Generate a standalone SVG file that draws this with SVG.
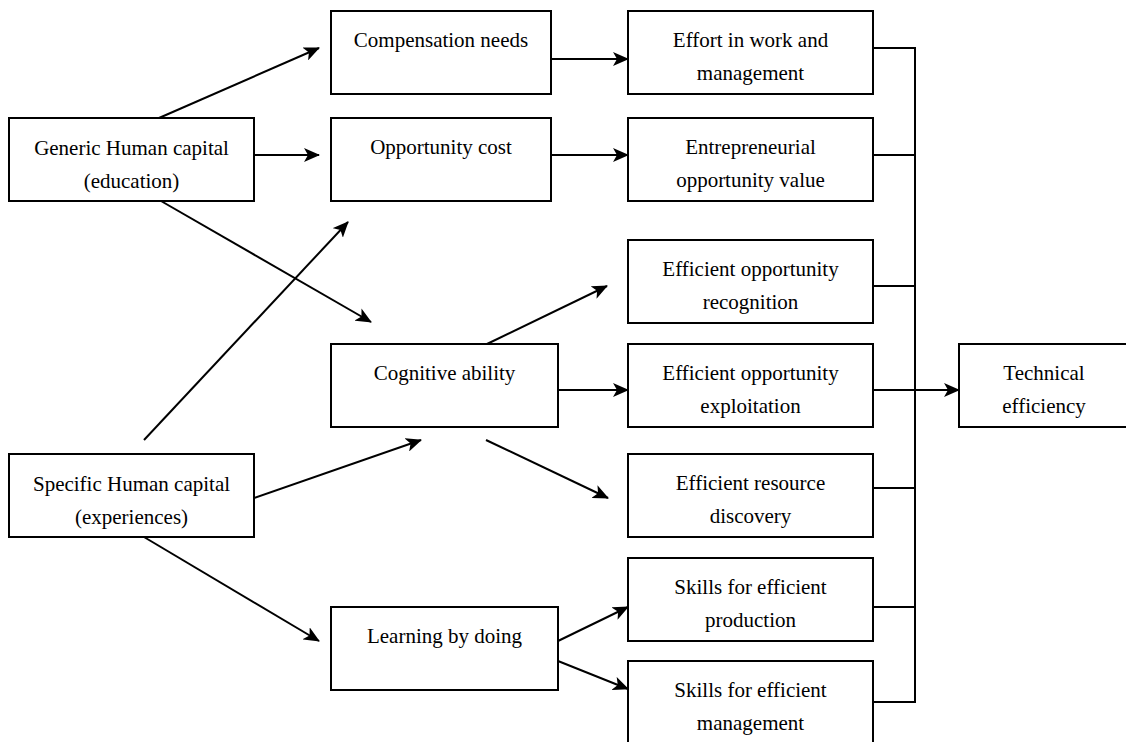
<svg xmlns="http://www.w3.org/2000/svg" width="1126" height="742" viewBox="0 0 1126 742">
<style>
.box{fill:#fff;stroke:#000;stroke-width:2}
.t{font-family:"Liberation Serif","Times New Roman",serif;font-size:21px;fill:#000;text-anchor:middle}
.c{fill:none;stroke:#000;stroke-width:2}
.a{fill:none;stroke:#000;stroke-width:2;marker-end:url(#ah)}
</style>
<defs>
<marker id="ah" markerUnits="userSpaceOnUse" markerWidth="16" markerHeight="14" viewBox="0 0 16 14" refX="15" refY="7" orient="auto">
<path d="M0,0 L16,7 L0,14 L4,7 z" fill="#000"/>
</marker>
</defs>
<rect width="1126" height="742" fill="#fff"/>
<g id="connectors">
<line class="a" x1="159" y1="118" x2="319" y2="48"/>
<line class="a" x1="254" y1="155" x2="319" y2="155"/>
<line class="a" x1="161" y1="201" x2="371" y2="322"/>
<line class="a" x1="144" y1="440" x2="348" y2="222"/>
<line class="a" x1="254" y1="498" x2="421" y2="440"/>
<line class="a" x1="144" y1="537" x2="319" y2="641"/>
<line class="a" x1="551" y1="59" x2="628" y2="59"/>
<line class="a" x1="551" y1="155" x2="628" y2="155"/>
<line class="a" x1="487" y1="344" x2="607" y2="286"/>
<line class="a" x1="558" y1="390" x2="628" y2="390"/>
<line class="a" x1="486" y1="440" x2="608" y2="498"/>
<line class="a" x1="558" y1="641" x2="628" y2="607"/>
<line class="a" x1="558" y1="661" x2="628" y2="689"/>
<path class="c" d="M873,48 H915 M873,155 H915 M873,286 H915 M873,488 H915 M873,607 H915 M873,702 H915 M915,47 V703"/>
<line class="a" x1="873" y1="390" x2="959" y2="390"/>
</g>
<g id="generic"><rect class="box" x="9" y="118" width="245" height="83"/><text class="t" x="131.5" y="155">Generic Human capital</text><text class="t" x="131.5" y="188">(education)</text></g>
<g id="specific"><rect class="box" x="9" y="454" width="245" height="83"/><text class="t" x="131.5" y="491">Specific Human capital</text><text class="t" x="131.5" y="524">(experiences)</text></g>
<g id="compensation"><rect class="box" x="331" y="11" width="220" height="83"/><text class="t" x="441" y="47">Compensation needs</text></g>
<g id="opportunity-cost"><rect class="box" x="331" y="118" width="220" height="83"/><text class="t" x="441" y="154">Opportunity cost</text></g>
<g id="cognitive"><rect class="box" x="331" y="344" width="227" height="83"/><text class="t" x="444.5" y="380">Cognitive ability</text></g>
<g id="learning"><rect class="box" x="331" y="607" width="227" height="83"/><text class="t" x="444.5" y="643">Learning by doing</text></g>
<g id="effort"><rect class="box" x="628" y="11" width="245" height="83"/><text class="t" x="750.5" y="47">Effort in work and</text><text class="t" x="750.5" y="80">management</text></g>
<g id="entrepreneurial"><rect class="box" x="628" y="118" width="245" height="83"/><text class="t" x="750.5" y="154">Entrepreneurial</text><text class="t" x="750.5" y="187">opportunity value</text></g>
<g id="eor"><rect class="box" x="628" y="240" width="245" height="83"/><text class="t" x="750.5" y="276">Efficient opportunity</text><text class="t" x="750.5" y="309">recognition</text></g>
<g id="eoe"><rect class="box" x="628" y="344" width="245" height="83"/><text class="t" x="750.5" y="380">Efficient opportunity</text><text class="t" x="750.5" y="413">exploitation</text></g>
<g id="erd"><rect class="box" x="628" y="454" width="245" height="83"/><text class="t" x="750.5" y="490">Efficient resource</text><text class="t" x="750.5" y="523">discovery</text></g>
<g id="sep"><rect class="box" x="628" y="558" width="245" height="83"/><text class="t" x="750.5" y="594">Skills for efficient</text><text class="t" x="750.5" y="627">production</text></g>
<g id="sem"><rect class="box" x="628" y="661" width="245" height="83"/><text class="t" x="750.5" y="697">Skills for efficient</text><text class="t" x="750.5" y="730">management</text></g>
<g id="technical"><rect class="box" x="959" y="344" width="170" height="83"/><text class="t" x="1044" y="380">Technical</text><text class="t" x="1044" y="413">efficiency</text></g>
</svg>
